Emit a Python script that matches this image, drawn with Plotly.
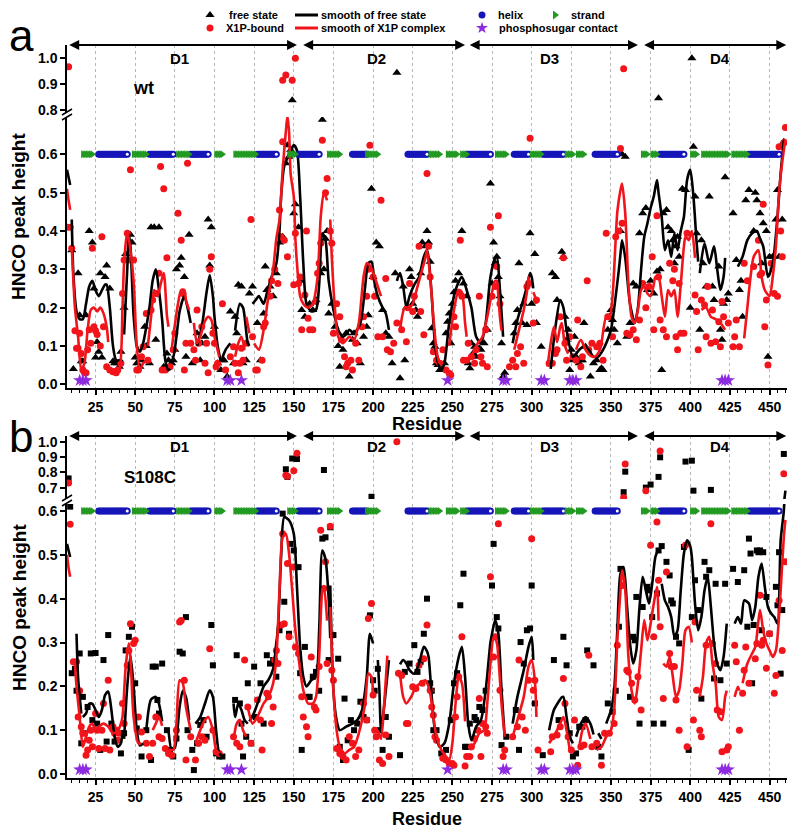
import plotly.graph_objects as go

# ------------------------------------------------------------------ data
# panel a (wt): free state (triangles) and X1P-bound (circles), (residue, peak height)
free_a = [(10,0.35),(11,0.04),(14,0.29),(15,0.18),(16,0.06),(17,0.06),(19,0.18),(21,0.40),(23,0.37),(24,0.25),(25,0.07),
 (26,0.11),(27,0.085),(28,0.29),(29,0.07),(31,0.28),(32,0.31),(34,0.25),(36,0.06),(37,0.055),(39,0.055),(40,0.046),
 (41,0.085),(43,0.2),(44,0.34),(47,0.39),(48,0.37),(50,0.07),(51,0.055),(53,0.046),(54,0.063),(56,0.15),(57,0.1),
 (59,0.055),(60,0.41),(62,0.41),(63,0.116),(65,0.41),(68,0.046),(70,0.08),(71,0.063),(73,0.055),(74,0.063),(75,0.09),
 (76,0.3),(78,0.31),(79,0.33),(81,0.28),(82,0.072),(84,0.39),(86,0.055),(89,0.133),(91,0.063),(92,0.107),(94,0.124),
 (96,0.43),(97,0.31),(98,0.41),(100,0.15),(102,0.055),(104,0.037),(105,0.063),(106,0.063),(108,0.02),(110,0.19),
 (112,0.055),(113,0.176),(114,0.133),(115,0.26),(117,0.255),(118,0.055),(120,0.063),(122,0.237),(124,0.255),(127,0.16),
 (129,0.063),(131,0.185),(132,0.307),(133,0.246),(135,0.255),(137,0.23),(139,0.29),(141,0.37),(143,0.385),(145,0.577),
 (146,0.624),(147,0.594),(148,0.611),(149,0.838),(150,0.446),(151,0.47),(152,0.6),(153,0.41),(154,0.27),(155,0.194),
 (157,0.176),(160,0.21),(162,0.194),(164,0.22),(167,0.29),(168,0.69),(169,0.3),(170,0.38),(171,0.4),(172,0.185),
 (174,0.21),(176,0.15),(178,0.1),(179,0.046),(181,0.09),(183,0.133),(185,0.02),(187,0.116),(188,0.133),(190,0.107),
 (192,0.055),(194,0.124),(196,0.15),(197,0.18),(199,0.51),(200,0.28),(202,0.37),(204,0.36),(206,0.194),(208,0.133),
 (210,0.124),(212,0.055),(214,0.29),(215,0.944),(217,0.016),(219,0.255),(220,0.063),(221,0.2),(223,0.3),(224,0.28),
 (225,0.21),(227,0.194),(228,0.176),(230,0.29),(231,0.37),(233,0.36),(234,0.4),(235,0.37),(236,0.32),(237,0.146),
 (238,0.107),(239,0.098),(240,0.055),(241,0.05),(242,0.037),(243,0.037),(245,0.055),(246,0.133),(247,0.163),(248,0.185),
 (249,0.107),(250,0.21),(251,0.24),(252,0.27),(254,0.29),(256,0.4),(257,0.263),(259,0.23),(260,0.055),(261,0.042),
 (262,0.107),(263,0.08),(264,0.098),(265,0.072),(267,0.094),(268,0.09),(270,0.107),(272,0.142),(274,0.524),(275,0.263),
 (276,0.37),(277,0.316),(278,0.333),(279,0.28),(280,0.23),(281,0.107),(282,0.02),(283,0.03),(289,0.133),(290,0.16),
 (291,0.194),(292,0.316),(294,0.16),(295,0.21),(297,0.155),(299,0.394),(300,0.21),(302,0.34),(303,0.16),(306,0.098),
 (313,0.29),(315,0.28),(316,0.22),(319,0.346),(320,0.333),(321,0.176),(322,0.116),(323,0.142),(324,0.037),(325,0.09),
 (326,0.063),(327,0.124),(328,0.072),(330,0.055),(331,0.063),(332,0.063),(333,0.16),(334,0.098),(337,0.02),(339,0.055),
 (341,0.063),(343,0.037),(344,0.042),(345,0.037),(348,0.142),(349,0.176),(350,0.194),(351,0.168),(352,0.142),(354,0.107),
 (356,0.4),(357,0.6),(359,0.594),(360,0.124),(362,0.16),(364,0.263),(366,0.255),(368,0.394),(370,0.446),(372,0.46),
 (373,0.246),(375,0.27),(377,0.237),(379,0.294),(380,0.845),(381,0.3),(382,0.037),(383,0.446),(385,0.455),(386,0.41),
 (388,0.4),(389,0.376),(390,0.316),(391,0.36),(392,0.385),(393,0.333),(395,0.51),(397,0.507),(400,0.2),(401,1.0),
 (402,0.62),(403,0.49),(404,0.394),(406,0.142),(407,0.376),(408,0.316),(410,0.255),(412,0.49),(414,0.255),(415,0.22),
 (418,0.307),(419,0.142),(420,0.116),(421,0.21),(422,0.54),(423,0.22),(424,0.237),(427,0.446),(429,0.324),(431,0.246),
 (432,0.27),(433,0.176),(435,0.48),(437,0.507),(440,0.4),(441,0.5),(442,0.48),(444,0.446),(445,0.316),(446,0.42),
 (448,0.4),(449,0.072),(450,0.333),(452,0.333),(454,0.43),(455,0.507),(456,0.333),(458,0.43),(459,0.633)]

x1p_a = [(7,0.41),(8,0.967),(9,0.41),(10,0.355),(12,0.14),(13,0.094),(14,0.094),(15,0.133),(16,0.08),(17,0.037),
 (18,0.03),(19,0.03),(20,0.09),(21,0.142),(22,0.107),(23,0.355),(24,0.15),(25,0.14),(26,0.13),(28,0.1),(29,0.385),
 (30,0.15),(32,0.046),(34,0.037),(36,0.033),(38,0.03),(39,0.037),(41,0.055),(42,0.237),(43,0.324),(45,0.394),(46,0.324),
 (47,0.56),(49,0.324),(51,0.037),(52,0.037),(54,0.072),(55,0.098),(57,0.185),(58,0.063),(60,0.194),(61,0.22),(63,0.237),
 (65,0.29),(66,0.568),(67,0.037),(68,0.51),(69,0.037),(70,0.33),(72,0.046),(74,0.09),(75,0.133),(77,0.446),(79,0.376),
 (80,0.237),(81,0.037),(82,0.107),(83,0.577),(85,0.107),(87,0.09),(88,0.063),(89,0.194),(90,0.107),(92,0.15),(94,0.055),
 (95,0.107),(96,0.03),(97,0.3),(98,0.333),(99,0.133),(100,0.107),(101,0.046),(102,0.055),(105,0.21),(107,0.037),
 (110,0.072),(112,0.098),(113,0.055),(115,0.03),(116,0.055),(117,0.094),(118,0.063),(120,0.107),(123,0.43),(124,0.124),
 (126,0.037),(127,0.037),(130,0.063),(131,0.15),(132,0.16),(135,0.23),(136,0.27),(138,0.3),(140,0.263),(141,0.455),
 (142,0.385),(143,0.633),(143,0.915),(144,0.376),(145,0.935),(146,0.333),(149,0.915),(150,0.26),(151,0.394),(151,1.0),
 (153,0.263),(154,0.28),(155,0.142),(157,0.233),(158,0.4),(159,0.172),(160,0.142),(162,0.142),(164,0.216),(165,0.29),
 (166,0.316),(167,0.368),(168,0.637),(170,0.5),(171,0.537),(173,0.4),(174,0.368),(175,0.133),(177,0.21),(179,0.176),
 (180,0.116),(182,0.072),(183,0.046),(184,0.055),(186,0.063),(187,0.037),(189,0.107),(191,0.063),(193,0.15),(194,0.176),
 (196,0.23),(197,0.3),(198,0.624),(200,0.28),(201,0.23),(203,0.124),(205,0.48),(206,0.124),(208,0.276),(209,0.09),
 (211,0.085),(213,0.107),(215,0.16),(218,0.142),(221,0.111),(222,0.2),(223,0.263),(225,0.19),(226,0.23),(229,0.36),
 (230,0.19),(232,0.129),(234,0.55),(235,0.36),(236,0.28),(238,0.085),(240,0.063),(242,0.055),(244,0.09),(246,0.037),
 (248,0.029),(249,0.024),(251,0.176),(252,0.15),(254,0.24),(255,0.376),(256,0.23),(257,0.063),(259,0.063),(260,0.107),
 (262,0.072),(264,0.055),(265,0.09),(267,0.23),(268,0.072),(269,0.055),(271,0.142),(272,0.046),(274,0.41),(275,0.23),
 (277,0.255),(278,0.307),(279,0.44),(280,0.21),(286,0.046),(288,0.063),(290,0.046),(291,0.08),(293,0.098),(295,0.055),
 (297,0.255),(298,0.263),(299,0.642),(301,0.16),(303,0.22),(311,0.055),(313,0.055),(315,0.08),(316,0.09),(318,0.176),
 (320,0.33),(321,0.107),(322,0.063),(324,0.124),(326,0.072),(328,0.063),(329,0.168),(331,0.046),(332,0.072),(335,0.27),
 (336,0.09),(338,0.107),(341,0.098),(343,0.107),(345,0.063),(347,0.394),(348,0.176),(351,0.124),(353,0.385),(355,0.4),
 (356,0.615),(357,0.42),(358,0.96),(360,0.133),(362,0.129),(364,0.142),(366,0.116),(368,0.168),(370,0.263),(372,0.2),
 (374,0.255),(376,0.333),(377,0.142),(379,0.44),(380,0.28),(381,0.168),(383,0.142),(385,0.124),(387,0.316),(389,0.27),
 (390,0.3),(391,0.124),(392,0.09),(393,0.263),(394,0.133),(396,0.133),(398,0.394),(403,0.233),(404,0.19),(405,0.09),
 (407,0.22),(409,0.207),(410,0.124),(411,0.255),(413,0.107),(414,0.194),(416,0.111),(418,0.163),(419,0.098),(420,0.216),
 (421,0.176),(424,0.16),(427,0.098),(428,0.124),(429,0.168),(431,0.098),(434,0.316),(436,0.27),(440,0.307),(443,0.376),
 (444,0.285),(445,0.29),(446,0.47),(447,0.15),(448,0.22),(449,0.05),(451,0.316),(453,0.237),(455,0.23),(456,0.62),
 (457,0.4),(458,0.333),(459,0.63),(460,0.67)]

smooth_free_a = [
 [(7,0.56),(8,0.54),(9,0.52)],
 [(10,0.43),(11,0.29),(13,0.19),(15,0.17),(17,0.17),(19,0.21),(21,0.255),(23,0.27),(25,0.245),(27,0.23),(29,0.245),
  (31,0.26),(32,0.26),(34,0.2),(36,0.1),(38,0.063),(41,0.063),(42,0.06)],
 [(43,0.13),(45,0.3),(46,0.39),(47,0.36),(49,0.18),(51,0.1),(53,0.085),(55,0.107),(57,0.15),(59,0.2),(61,0.27),
  (63,0.3),(65,0.245),(67,0.168),(69,0.063),(71,0.037),(72,0.04)],
 [(73,0.07),(74,0.072),(76,0.124),(78,0.19),(81,0.23),(83,0.2),(85,0.16)],
 [(89,0.1),(92,0.15),(95,0.24),(97,0.285),(99,0.23),(100,0.176),(102,0.1),(104,0.06)],
 [(105,0.07),(107,0.09),(110,0.107)],
 [(113,0.14),(116,0.21),(118,0.2),(121,0.107),(122,0.1)],
 [(124,0.21),(126,0.22),(128,0.23),(131,0.21),(133,0.237),(136,0.28),(139,0.315),(141,0.4),(142,0.49),(144,0.57),
  (147,0.6),(150,0.624),(152,0.61),(154,0.49),(156,0.316),(158,0.21),(161,0.19),(164,0.194),(166,0.26),(168,0.394),
  (170,0.376),(172,0.27),(175,0.194),(178,0.142),(181,0.124),(183,0.13),(185,0.142),(188,0.133),(192,0.16),(195,0.255),
  (197,0.316),(199,0.32),(201,0.263),(203,0.229),(206,0.2),(208,0.185),(210,0.142)],
 [(215,0.27),(217,0.29),(219,0.255),(221,0.2),(223,0.23),(226,0.26),(229,0.28),(232,0.333),(234,0.35),(235,0.33),
  (237,0.23),(239,0.107),(241,0.055),(243,0.037),(245,0.055),(248,0.16),(252,0.246),(256,0.28),(259,0.246),(262,0.2),
  (265,0.124),(268,0.107),(271,0.16),(274,0.28),(277,0.33),(278,0.333),(280,0.246),(282,0.124)],
 [(288,0.107),(291,0.168),(294,0.21),(297,0.255),(299,0.29),(300,0.28),(301,0.25)],
 [(312,0.04),(315,0.15),(318,0.22),(320,0.2),(322,0.142),(326,0.072),(330,0.09),(333,0.1),(336,0.09),(339,0.072),
  (342,0.072),(345,0.09),(347,0.107),(350,0.142),(353,0.23),(355,0.3),(356,0.34),(357,0.376),(359,0.33),(360,0.29),
  (362,0.21),(365,0.16),(367,0.2),(369,0.3),(371,0.385),(373,0.42),(375,0.46),(377,0.49),(379,0.533),(380,0.5),
  (382,0.437),(384,0.35),(386,0.376),(388,0.333),(390,0.394),(392,0.35),(394,0.4),(396,0.437),(398,0.533),(400,0.56),
  (402,0.49),(404,0.37),(405,0.32)],
 [(406,0.29),(409,0.368),(412,0.316),(415,0.36),(417,0.3),(419,0.246),(421,0.28),(422,0.33)],
 [(430,0.307),(433,0.333),(436,0.376),(439,0.394),(442,0.4),(444,0.38),(446,0.36),(449,0.28),(452,0.316),(455,0.437),
  (457,0.55),(459,0.637)]]

smooth_x1p_a = [
 [(7,0.51),(8,0.48),(9,0.455)],
 [(10,0.36),(12,0.2),(14,0.124),(16,0.037),(18,0.055),(20,0.142),(22,0.194),(24,0.2),(26,0.19),(28,0.2),(30,0.185),
  (32,0.15),(33,0.11)],
 [(36,0.04),(38,0.037),(40,0.04),(42,0.2),(43,0.316),(45,0.4),(47,0.35),(49,0.27),(51,0.1),(53,0.037),(55,0.055),(57,0.06)],
 [(58,0.1),(60,0.176),(62,0.246),(64,0.23),(66,0.26),(68,0.29),(70,0.18),(71,0.15)],
 [(73,0.09),(74,0.124),(77,0.21),(79,0.246),(81,0.246),(82,0.22),(84,0.194)],
 [(87,0.16),(89,0.107),(91,0.124),(94,0.165),(96,0.176),(98,0.168),(100,0.124),(103,0.072)],
 [(113,0.072),(115,0.107),(117,0.124),(119,0.09)],
 [(120,0.176),(122,0.133)],
 [(125,0.107),(128,0.09),(131,0.142),(134,0.23),(137,0.3),(139,0.38),(141,0.43),(143,0.56),(145,0.66),(146,0.70),
  (147,0.66),(148,0.55),(150,0.49),(151,0.38),(152,0.316),(154,0.23),(156,0.21),(159,0.2),(162,0.21),(165,0.28),
  (167,0.437),(169,0.5),(171,0.48)],
 [(173,0.43),(174,0.33),(176,0.194),(178,0.124),(181,0.107),(185,0.124),(188,0.116),(191,0.16),(194,0.28),(196,0.316),
  (198,0.31),(201,0.28),(203,0.255),(205,0.23)],
 [(217,0.142),(220,0.2),(223,0.2),(225,0.21),(228,0.255),(231,0.3),(233,0.33),(234,0.35),(236,0.28),(238,0.176),
  (240,0.09),(242,0.055),(244,0.06)],
 [(248,0.1),(251,0.194),(254,0.246),(256,0.24),(258,0.16),(259,0.124)],
 [(262,0.072),(266,0.107),(269,0.124),(272,0.176),(275,0.24),(277,0.27),(278,0.27),(279,0.23),(280,0.176),(281,0.14)],
 [(289,0.09),(292,0.142),(295,0.194),(297,0.24),(298,0.28),(299,0.26)],
 [(301,0.24),(302,0.23),(303,0.21)],
 [(310,0.046),(312,0.107),(314,0.15),(316,0.11),(318,0.15),(319,0.16),(321,0.1),(323,0.08)],
 [(328,0.09),(331,0.116),(334,0.09),(337,0.075),(340,0.072),(343,0.09),(344,0.107),(347,0.176),(349,0.17),(351,0.23),
  (353,0.38),(354,0.45),(356,0.507),(357,0.524),(359,0.446),(361,0.263),(363,0.176),(365,0.16),(367,0.194),(369,0.246),
  (371,0.255),(373,0.237),(375,0.23),(377,0.26),(378,0.28),(380,0.28),(382,0.23),(384,0.176),(386,0.246),(388,0.23),
  (390,0.246),(392,0.176),(394,0.26),(396,0.36),(397,0.385),(399,0.376),(401,0.4),(403,0.33)],
 [(407,0.194),(410,0.2),(413,0.176),(416,0.17),(419,0.16),(422,0.142)],
 [(434,0.12),(436,0.2),(438,0.28),(440,0.333),(443,0.35),(445,0.28),(447,0.246),(450,0.23),(452,0.28),(454,0.36),
  (456,0.5),(458,0.58),(460,0.64)]]

# panel b (S108C): free state (squares) and X1P-bound (circles)
free_b = [(8,0.76),(9,0.61),(10,0.23),(12,0.24),(13,0.19),(15,0.275),(16,0.07),(17,0.176),(18,0.093),(20,0.153),(22,0.275),
 (23,0.123),(25,0.276),(26,0.115),(28,0.055),(30,0.26),(32,0.074),(33,0.317),(35,0.115),(37,0.074),(41,0.047),(43,0.093),
 (44,0.282),(46,0.313),(48,0.336),(50,0.207),(51,0.104),(54,0.04),(57,0.1),(60,0.032),(61,0.245),(63,0.245),(64,0.169),
 (65,0.138),(67,0.252),(70,0.1),(72,0.055),(74,0.04),(76,0.081),(78,0.279),(80,0.275),(82,0.358),(83,0.1),(86,0.055),
 (87,0.009),(89,0.07),(91,0.112),(93,0.123),(95,0.085),(98,0.34),(99,0.248),(101,0.047),(103,0.04),(105,0.04),(113,0.169),
 (114,0.271),(116,0.161),(117,0.115),(118,0.04),(120,0.085),(121,0.207),(123,0.07),(125,0.245),(126,0.13),(129,0.207),
 (131,0.115),(133,0.271),(135,0.252),(137,0.26),(139,0.222),(141,0.328),(143,0.594),(144,0.393),(145,0.82),(146,0.77),
 (147,0.32),(148,0.525),(149,0.89),(150,0.51),(152,0.887),(153,0.472),(154,0.23),(155,0.055),(157,0.29),(159,0.176),
 (160,0.176),(162,0.222),(164,0.233),(166,0.19),(168,0.537),(169,0.815),(170,0.54),(172,0.26),(173,0.563),(175,0.317),
 (178,0.263),(179,0.062),(181,0.032),(182,0.172),(184,0.077),(186,0.123),(188,0.1),(190,0.115),(192,0.165),(194,0.13),
 (196,0.123),(198,0.362),(199,0.64),(200,0.214),(201,0.19),(203,0.24),(204,0.1),(206,0.055),(208,0.13),(210,0.085),
 (217,0.043),(220,0.233),(223,0.252),(226,0.294),(228,0.233),(230,0.256),(232,0.32),(234,0.4),(236,0.207),(237,0.19),
 (238,0.1),(240,0.1),(243,0.047),(244,0.04),(246,0.055),(249,0.123),(251,0.207),(253,0.23),(255,0.385),(257,0.457),
 (258,0.062),(259,0.062),(261,0.115),(264,0.13),(265,0.123),(267,0.153),(269,0.146),(271,0.19),(275,0.43),(276,0.525),
 (278,0.358),(279,0.332),(281,0.066),(284,0.085),(290,0.146),(292,0.055),(293,0.301),(295,0.252),(297,0.328),(299,0.332),
 (300,0.43),(302,0.161),(307,0.043),(314,0.26),(317,0.123),(320,0.313),(322,0.248),(324,0.093),(326,0.04),(328,0.047),
 (330,0.108),(332,0.108),(334,0.123),(335,0.282),(339,0.248),(342,0.062),(344,0.04),(348,0.161),(351,0.142),(353,0.19),
 (355,0.336),(356,0.468),(358,0.67),(359,0.804),(362,0.176),(364,0.313),(365,0.305),(366,0.404),(368,0.115),(370,0.381),
 (372,0.7),(373,0.427),(374,0.419),(375,0.72),(376,0.358),(377,0.115),(379,0.412),(380,0.51),(380,0.77),(381,0.898),
 (382,0.52),(383,0.115),(385,0.484),(387,0.453),(388,0.396),(389,0.389),(391,0.313),(393,0.298),(396,0.518),(397,0.87),
 (399,0.055),(401,0.358),(401,0.876),(402,0.68),(403,0.442),(405,0.374),(407,0.172),(409,0.484),(410,0.45),(412,0.465),
 (413,0.685),(415,0.218),(416,0.434),(419,0.214),(422,0.434),(423,0.252),(427,0.468),(430,0.438),(434,0.465),(436,0.336),
 (437,0.537),(438,0.503),(439,0.207),(440,0.34),(442,0.51),(443,0.506),(444,0.51),(445,0.328),(446,0.506),(448,0.404),
 (450,0.32),(454,0.427),(455,0.385),(456,0.506),(457,0.229),(458,0.374),(459,0.92)]

x1p_b = [(8,0.73),(9,0.57),(11,0.256),(13,0.256),(14,0.13),(15,0.19),(16,0.108),(17,0.093),(19,0.043),(20,0.055),(21,0.077),
 (22,0.1),(23,0.062),(25,0.138),(26,0.1),(27,0.058),(29,0.1),(30,0.161),(31,0.058),(33,0.214),(34,0.055),(36,0.108),
 (37,0.093),(38,0.1),(39,0.077),(40,0.093),(42,0.161),(43,0.115),(45,0.248),(46,0.282),(47,0.343),(49,0.298),(50,0.305),
 (52,0.13),(54,0.096),(57,0.07),(59,0.04),(61,0.07),(63,0.13),(65,0.085),(67,0.081),(69,0.058),(71,0.047),(73,0.043),
 (76,0.1),(78,0.347),(79,0.35),(81,0.214),(82,0.032),(85,0.085),(88,0.032),(90,0.07),(92,0.085),(94,0.077),(97,0.286),
 (99,0.1),(101,0.051),(103,0.047),(112,0.085),(114,0.07),(116,0.062),(119,0.26),(121,0.153),(123,0.07),(127,0.169),
 (129,0.123),(130,0.055),(133,0.184),(134,0.176),(136,0.115),(137,0.153),(138,0.26),(139,0.282),(140,0.252),(142,0.34),
 (143,0.548),(144,0.343),(145,0.78),(146,0.48),(146,0.775),(147,0.313),(150,0.81),(150,0.472),(151,0.29),(152,0.924),
 (153,0.275),(155,0.176),(156,0.13),(158,0.108),(159,0.085),(161,0.267),(163,0.153),(164,0.146),(166,0.245),(167,0.556),
 (169,0.423),(170,0.484),(171,0.252),(173,0.565),(174,0.237),(175,0.214),(177,0.058),(179,0.047),(181,0.04),(183,0.032),
 (185,0.085),(187,0.07),(189,0.04),(191,0.055),(194,0.161),(196,0.123),(197,0.355),(199,0.389),(200,0.18),(201,0.1),
 (202,0.085),(204,0.032),(206,0.024),(208,0.089),(210,0.04),(215,1.0),(216,0.23),(218,0.225),(221,0.115),(222,0.115),
 (225,0.199),(227,0.195),(229,0.248),(231,0.207),(232,0.263),(234,0.34),(236,0.191),(237,0.153),(238,0.134),(239,0.085),
 (240,0.077),(244,0.036),(246,0.032),(248,0.024),(250,0.024),(251,0.02),(252,0.13),(253,0.176),(254,0.222),(256,0.313),
 (258,0.018),(259,0.04),(261,0.04),(262,0.062),(264,0.081),(266,0.1),(267,0.172),(268,0.04),(269,0.115),(271,0.108),
 (272,0.093),(274,0.45),(276,0.267),(277,0.313),(279,0.571),(280,0.191),(282,0.04),(283,0.055),(288,0.085),(291,0.108),
 (292,0.26),(294,0.13),(296,0.1),(298,0.214),(300,0.537),(301,0.191),(302,0.214),(304,0.055),(312,0.051),(313,0.085),
 (316,0.089),(318,0.108),(320,0.218),(321,0.161),(323,0.085),(325,0.055),(327,0.123),(329,0.02),(331,0.062),(333,0.066),
 (336,0.271),(338,0.062),(341,0.07),(344,0.02),(346,0.093),(349,0.093),(352,0.115),(354,0.294),(357,0.43),(358,0.635),
 (359,0.855),(360,0.237),(361,0.233),(363,0.207),(365,0.169),(367,0.222),(369,0.146),(372,0.68),(375,0.522),(377,0.313),
 (379,0.575),(380,0.442),(381,0.336),(381,0.94),(383,0.172),(385,0.461),(387,0.275),(388,0.245),(390,0.245),(391,0.169),
 (393,0.1),(397,0.522),(398,0.062),(402,0.123),(403,0.347),(404,0.191),(406,0.1),(407,0.085),(410,0.294),(413,0.571),
 (414,0.298),(416,0.252),(417,0.146),(419,0.142),(420,0.051),(423,0.055),(424,0.062),(428,0.294),(429,0.256),(431,0.1),
 (433,0.184),(434,0.237),(435,0.29),(437,0.207),(441,0.263),(442,0.298),(444,0.408),(445,0.294),(446,0.305),(448,0.241),
 (450,0.32),(453,0.184),(454,0.225),(456,0.396),(458,0.282),(459,0.79),(460,0.484)]

smooth_free_b = [
 [(7,0.525),(8,0.51),(9,0.495)],
 [(13,0.32),(14,0.22),(16,0.138)],
 [(17,0.13),(19,0.138),(21,0.16),(23,0.16),(25,0.146),(27,0.13),(29,0.146),(31,0.18),(33,0.188),(35,0.146),(37,0.085),
  (39,0.062),(41,0.07),(42,0.1)],
 [(43,0.08),(45,0.2),(47,0.27),(49,0.2),(51,0.1),(53,0.065),(55,0.07)],
 [(57,0.1),(60,0.17),(63,0.176),(65,0.16),(67,0.12)],
 [(71,0.1),(73,0.055),(75,0.06),(78,0.153),(80,0.19),(82,0.176),(84,0.123)],
 [(88,0.115),(91,0.13),(94,0.161),(97,0.191),(99,0.176),(101,0.1),(103,0.047),(105,0.04)],
 [(112,0.161),(113,0.13),(115,0.161),(117,0.146),(119,0.123),(121,0.115)],
 [(122,0.12),(125,0.14),(128,0.17),(131,0.2),(134,0.215),(137,0.24),(139,0.3),(140,0.33),(142,0.495),(144,0.586),
  (147,0.579),(150,0.548),(152,0.427),(154,0.29),(156,0.222),(158,0.2),(161,0.214),(164,0.222),(166,0.328),(168,0.51),
  (170,0.49),(172,0.4),(173,0.31)],
 [(173,0.43),(175,0.19),(177,0.123),(179,0.1),(183,0.108),(187,0.115),(190,0.123),(193,0.146),(196,0.222),(198,0.32),
  (200,0.298)],
 [(203,0.26),(204,0.19),(205,0.1),(206,0.123),(208,0.19),(210,0.26)],
 [(217,0.25),(219,0.26),(221,0.252),(223,0.237),(226,0.229),(229,0.252),(232,0.29),(234,0.28),(235,0.267),(237,0.176),
  (239,0.1),(242,0.062),(245,0.07),(248,0.115),(251,0.207),(254,0.267),(256,0.29),(258,0.222),(260,0.115),(262,0.077),
  (265,0.108),(268,0.123),(271,0.191),(274,0.3),(275,0.32),(277,0.351),(279,0.32),(281,0.191),(283,0.085)],
 [(288,0.115),(291,0.176),(295,0.237),(298,0.29),(300,0.313),(301,0.26)],
 [(311,0.1),(314,0.146),(317,0.165),(319,0.175),(320,0.176),(322,0.13),(324,0.085),(326,0.07)],
 [(328,0.085),(331,0.115),(334,0.13),(337,0.115),(339,0.09)],
 [(342,0.093),(344,0.08)],
 [(347,0.115),(350,0.146),(352,0.191),(354,0.328),(356,0.457),(358,0.472),(360,0.389),(362,0.298),(364,0.252),(366,0.282),
  (368,0.381),(370,0.45),(372,0.419),(374,0.389),(376,0.434),(378,0.495),(380,0.514)],
 [(382,0.434),(384,0.396),(386,0.381),(388,0.358),(390,0.313),(392,0.328),(394,0.419),(396,0.503),(398,0.533),(400,0.52),
  (401,0.495),(403,0.389),(405,0.328),(407,0.358),(409,0.419),(411,0.45),(413,0.381),(415,0.298),(417,0.252),(419,0.237),
  (421,0.267),(423,0.343)],
 [(428,0.343),(430,0.358),(432,0.343),(434,0.396),(437,0.389),(439,0.351),(441,0.381),(443,0.45),(445,0.48),(447,0.427),
  (449,0.381),(451,0.366),(453,0.358),(455,0.343),(457,0.533),(459,0.601),(460,0.68)]]

smooth_x1p_b = [
 [(7,0.5),(8,0.47),(9,0.45)],
 [(12,0.252),(13,0.2),(15,0.13),(17,0.062),(19,0.085),(21,0.108),(23,0.115),(25,0.1),(27,0.108),(30,0.115),(33,0.108),
  (36,0.093),(39,0.098),(41,0.115),(42,0.13),(44,0.245),(46,0.298),(47,0.267),(49,0.13),(52,0.07),(54,0.07)],
 [(61,0.1),(63,0.115),(65,0.13),(67,0.11)],
 [(71,0.055),(74,0.055),(76,0.115),(78,0.214),(80,0.207),(82,0.153),(85,0.1)],
 [(88,0.07),(91,0.1),(94,0.123),(96,0.13),(99,0.1),(101,0.055),(103,0.047)],
 [(112,0.077),(114,0.115),(116,0.123),(118,0.1),(120,0.085)],
 [(121,0.153),(124,0.115),(127,0.13),(131,0.161),(134,0.176),(137,0.207),(139,0.267),(141,0.419),(143,0.54),(145,0.548),
  (147,0.503),(149,0.419),(151,0.328),(154,0.237),(156,0.191),(159,0.161),(162,0.161),(164,0.176),(166,0.267),(168,0.419),
  (169,0.427),(171,0.35)],
 [(173,0.381),(175,0.191),(177,0.1),(179,0.062),(182,0.047),(185,0.055),(188,0.062),(191,0.093),(195,0.161),(197,0.229),
  (199,0.222),(200,0.18)],
 [(203,0.1),(205,0.08),(207,0.16),(209,0.27)],
 [(217,0.229),(219,0.176),(221,0.161),(224,0.176),(227,0.199),(230,0.207),(233,0.214),(236,0.184),(238,0.13),(240,0.085),
  (243,0.055),(246,0.04),(248,0.032),(250,0.07),(252,0.161),(254,0.222),(256,0.207),(258,0.12)],
 [(261,0.055),(264,0.07),(267,0.093),(270,0.1),(272,0.161),(274,0.252),(276,0.313),(278,0.3),(279,0.267),(281,0.161),
  (283,0.085)],
 [(288,0.085),(291,0.123),(295,0.176),(298,0.245),(300,0.26),(302,0.214),(303,0.13)],
 [(311,0.07),(315,0.093),(318,0.115),(320,0.13),(322,0.1),(324,0.055)],
 [(330,0.062),(332,0.1),(334,0.115),(337,0.08)],
 [(341,0.055),(344,0.062),(347,0.085),(350,0.1),(352,0.146),(354,0.305),(356,0.419),(357,0.465),(359,0.419),(361,0.267),
  (363,0.191),(365,0.161),(367,0.207),(369,0.282),(371,0.351),(373,0.305),(375,0.343),(377,0.389),(379,0.427),(380,0.35)],
 [(383,0.252),(385,0.245),(387,0.267),(389,0.222),(391,0.176),(393,0.191),(395,0.252),(397,0.328),(399,0.336),(401,0.3)],
 [(406,0.176),(408,0.222),(410,0.298),(412,0.313),(414,0.252),(416,0.207),(418,0.13),(420,0.123),(422,0.176),(423,0.19)],
 [(428,0.176),(430,0.199),(431,0.19)],
 [(433,0.207),(436,0.252),(439,0.275),(441,0.29),(443,0.35),(444,0.374),(446,0.328),(448,0.298),(450,0.282),(452,0.267),
  (454,0.282),(456,0.36),(457,0.419),(459,0.541),(460,0.58)]]

# secondary structure (residue ranges), phosphosugar contacts, domains
helix = [(27,45),(59,74),(85,96),(127,139),(153,166),(187,196),(222,234),(259,274),(289,298),(307,320),(340,354),
         (381,396),(437,456)]
strand = [(17,23),(49,57),(77,84),(101,105),(113,126),(147,151),(172,179),(196,203),(236,242),(247,253),(256,259),
          (278,284),(300,306),(322,326),(329,333),(370,373),(376,379),(401,404),(408,414),(415,424),(427,436)]
phospho = [15, 17, 19, 108, 110, 117, 247, 282, 284, 306, 308, 324, 326, 328, 420, 422, 424]
ss_level = 0.6
phospho_level = 0.01
domains = ["D1", "D2", "D3", "D4"]
domain_start = [7.5, 155, 260, 370]
domain_end = [152, 258, 367, 460.5]
domain_label_x = [78, 202, 311, 419]
x_ticks = [25, 50, 75, 100, 125, 150, 175, 200, 225, 250, 275, 300, 325, 350, 375, 400, 425, 450]
yt_a_lo = [0.0, 0.1, 0.2, 0.3, 0.4, 0.5, 0.6]
yt_a_hi = [0.8, 0.9, 1.0]
yt_b_lo = [0.0, 0.1, 0.2, 0.3, 0.4, 0.5, 0.6]
yt_b_hi = [0.7, 0.8, 0.9, 1.0]

# ------------------------------------------------------------------ layout geometry (pixels)
W, H = 800, 833
FONT = "Arial, Liberation Sans, sans-serif"
RED = "#f2141b"
BLUE = "#1515b8"
GREEN = "#229a22"
PURPLE = "#8d2be0"


def fx(p):
    return p / W


def fy(p):
    return 1 - p / H


X0, X1 = 67, 787
XR = [7, 461]
PANELS = [
    dict(name="a", xl="x", yl="y", xu="x2", yu="y2",
         lo_px=(117, 388), lo_rng=[-0.0097, 0.6974], hi_px=(45, 113), hi_rng=[0.7884, 1.0515],
         yt_lo=yt_a_lo, yt_hi=yt_a_hi, free=free_a, x1p=x1p_a, sf=smooth_free_a, sx=smooth_x1p_a,
         free_sym="triangle-up", free_size=8, label_px=(21, 36), sub="wt", sub_px=(143, 88), sub_size=18,
         arrow_px=45, dlabel_px=58, title_px=424, ytitle_px=217, brk_px=115),
    dict(name="b", xl="x3", yl="y3", xu="x4", yu="y4",
         lo_px=(504, 778), lo_rng=[-0.0091, 0.616], hi_px=(436, 499), hi_rng=[0.6255, 1.0373],
         yt_lo=yt_b_lo, yt_hi=yt_b_hi, free=free_b, x1p=x1p_b, sf=smooth_free_b, sx=smooth_x1p_b,
         free_sym="square", free_size=6, label_px=(21, 436), sub="S108C", sub_px=(150, 477), sub_size=17,
         arrow_px=436, dlabel_px=447, title_px=819, ytitle_px=608, brk_px=501),
]


def join(segs):
    xs, ys = [], []
    for s in segs:
        for r, v in s:
            xs.append(r)
            ys.append(v)
        xs.append(None)
        ys.append(None)
    return xs, ys


fig = go.Figure()


def add(xs, ys, xa, ya, **kw):
    fig.add_trace(go.Scatter(x=list(xs), y=list(ys), xaxis=xa, yaxis=ya, showlegend=False,
                             hoverinfo="skip", **kw))


annotations = []
shapes = []
layout_axes = {}

tickfont = dict(family=FONT, size=14, color="black", weight="bold")

for i, P in enumerate(PANELS):
    lo_top = P["lo_rng"][1]
    # scatter points split between lower / upper segments
    for pts, sym, size, col in [(P["free"], P["free_sym"], P["free_size"], "black"),
                                (P["x1p"], "circle", 7, RED)]:
        lo = [(r, v) for r, v in pts if v <= lo_top]
        hi = [(r, v) for r, v in pts if v > lo_top]
        for sub, xa, ya in [(lo, P["xl"], P["yl"]), (hi, P["xu"], P["yu"])]:
            if sub:
                add([p[0] for p in sub], [p[1] for p in sub], xa, ya, mode="markers",
                    marker=dict(symbol=sym, size=size, color=col, line=dict(width=0)))
    # smooth lines, drawn in both segments (clipped by the axes)
    for segs, col in [(P["sf"], "black"), (P["sx"], RED)]:
        xs, ys = join(segs)
        for xa, ya in [(P["xl"], P["yl"]), (P["xu"], P["yu"])]:
            add(xs, ys, xa, ya, mode="lines", connectgaps=False,
                line=dict(color=col, width=2.6, shape="spline", smoothing=0.7))
    # secondary structure
    hx = [r for s, e in helix for r in range(s, e + 1)]
    add(hx, [ss_level] * len(hx), P["xl"], P["yl"], mode="markers",
        marker=dict(symbol="circle", size=7, color=BLUE, line=dict(width=0)))
    he = [e for s, e in helix]
    add(he, [ss_level] * len(he), P["xl"], P["yl"], mode="markers",
        marker=dict(symbol="circle", size=3, color="white", line=dict(width=0)))
    st = [r for s, e in strand for r in range(s, e + 1)]
    add(st, [ss_level] * len(st), P["xl"], P["yl"], mode="markers",
        marker=dict(symbol="triangle-right", size=7, color=GREEN, line=dict(width=0)))
    add(phospho, [phospho_level] * len(phospho), P["xl"], P["yl"], mode="markers",
        marker=dict(symbol="star", size=10, color=PURPLE, line=dict(width=0)))

    # axes
    xid_l = "xaxis" if P["xl"] == "x" else "xaxis" + P["xl"][1:]
    xid_u = "xaxis" + P["xu"][1:]
    yid_l = "yaxis" if P["yl"] == "y" else "yaxis" + P["yl"][1:]
    yid_u = "yaxis" + P["yu"][1:]
    xcommon = dict(range=XR, domain=[fx(X0), fx(X1)], showgrid=True, gridcolor="#b8b8b8",
                   griddash="3px,3px", gridwidth=1, zeroline=False, tickvals=x_ticks, automargin=False,
                   fixedrange=True)
    layout_axes[xid_l] = dict(xcommon, anchor=P["yl"], showline=True, linecolor="black", linewidth=1.5,
                              ticks="outside", ticklen=5, tickwidth=1.5, tickcolor="black",
                              showticklabels=True, tickfont=dict(tickfont, size=14),
                              minor=dict(dtick=5, tick0=0, ticks="outside", ticklen=3, tickwidth=1,
                                         tickcolor="black", showgrid=False))
    layout_axes[xid_u] = dict(xcommon, anchor=P["yu"], showline=False, ticks="", showticklabels=False)
    ycommon = dict(showline=True, linecolor="black", linewidth=1.5, ticks="outside", ticklen=5,
                   tickwidth=1.5, tickcolor="black", showgrid=False, zeroline=False, tickfont=tickfont,
                   automargin=False, fixedrange=True)
    layout_axes[yid_l] = dict(ycommon, anchor=P["xl"], range=P["lo_rng"],
                              domain=[fy(P["lo_px"][1]), fy(P["lo_px"][0])],
                              tickvals=P["yt_lo"], ticktext=["%.1f" % v for v in P["yt_lo"]])
    layout_axes[yid_u] = dict(ycommon, anchor=P["xu"], range=P["hi_rng"],
                              domain=[fy(P["hi_px"][1]), fy(P["hi_px"][0])],
                              tickvals=P["yt_hi"], ticktext=["%.1f" % v for v in P["yt_hi"]])

    # domain arrows + labels
    for name, s, e, lx in zip(domains, domain_start, domain_end, domain_label_x):
        annotations.append(dict(x=e, y=fy(P["arrow_px"]), xref=P["xl"], yref="paper", ax=s, ay=0,
                                axref=P["xl"], ayref="pixel", text="", showarrow=True,
                                arrowside="end+start", arrowhead=2, startarrowhead=2, arrowsize=1.1,
                                startarrowsize=1.1, arrowwidth=1.8, arrowcolor="black"))
        annotations.append(dict(x=lx, y=fy(P["dlabel_px"]), xref=P["xl"], yref="paper", text=name,
                                showarrow=False, font=dict(family=FONT, size=15, color="black", weight="bold"),
                                xanchor="center", yanchor="middle"))
    # panel letter, variant label, titles
    annotations.append(dict(x=fx(P["label_px"][0]), y=fy(P["label_px"][1]), xref="paper", yref="paper",
                            text=P["name"], showarrow=False, font=dict(family=FONT, size=44, color="black"),
                            xanchor="center", yanchor="middle"))
    annotations.append(dict(x=fx(P["sub_px"][0]), y=fy(P["sub_px"][1]), xref="paper", yref="paper",
                            text=P["sub"], showarrow=False,
                            font=dict(family=FONT, size=P["sub_size"], color="black", weight="bold"),
                            xanchor="center", yanchor="middle"))
    annotations.append(dict(x=fx((X0 + X1) / 2), y=fy(P["title_px"]), xref="paper", yref="paper",
                            text="Residue", showarrow=False, borderpad=0,
                            font=dict(family=FONT, size=18, color="black", weight="bold"),
                            xanchor="center", yanchor="middle"))
    annotations.append(dict(x=fx(19), y=fy(P["ytitle_px"]), xref="paper", yref="paper",
                            text="HNCO peak height", showarrow=False, textangle=-90,
                            font=dict(family=FONT, size=19, color="black", weight="bold"),
                            xanchor="center", yanchor="middle"))
    # axis break marks
    b = P["brk_px"]
    for off in (-3, 2):
        shapes.append(dict(type="line", xref="paper", yref="paper", x0=fx(X0 - 5), y0=fy(b + off + 3),
                           x1=fx(X0 + 5), y1=fy(b + off - 3), line=dict(color="black", width=1.5)))

# ------------------------------------------------------------------ legend (overlay in pixel space)
layout_axes["xaxis5"] = dict(domain=[0, 1], range=[0, W], visible=False, fixedrange=True, anchor="y5")
layout_axes["yaxis5"] = dict(domain=[0, 1], range=[H, 0], visible=False, fixedrange=True, anchor="x5")
leg_row = [15, 28]
add([210], [leg_row[0]], "x5", "y5", mode="markers", cliponaxis=False,
    marker=dict(symbol="triangle-up", size=8, color="black"))
add([210], [leg_row[1]], "x5", "y5", mode="markers", cliponaxis=False,
    marker=dict(symbol="circle", size=7, color=RED))
add([295, 318], [leg_row[0]] * 2, "x5", "y5", mode="lines", line=dict(color="black", width=3))
add([295, 318], [leg_row[1]] * 2, "x5", "y5", mode="lines", line=dict(color=RED, width=3))
add([482], [leg_row[0]], "x5", "y5", mode="markers", cliponaxis=False,
    marker=dict(symbol="circle", size=7, color=BLUE))
add([482], [leg_row[1]], "x5", "y5", mode="markers", cliponaxis=False,
    marker=dict(symbol="star", size=9, color=PURPLE))
add([555], [leg_row[0]], "x5", "y5", mode="markers", cliponaxis=False,
    marker=dict(symbol="triangle-right", size=8, color=GREEN))
for txt, px, row in [("free state", 227, 0), ("X1P-bound", 224, 1), ("smooth of free state", 319, 0),
                     ("smooth of X1P complex", 319, 1), ("helix", 496, 0), ("phosphosugar contact", 497, 1),
                     ("strand", 569, 0)]:
    annotations.append(dict(x=fx(px), y=fy(leg_row[row]), xref="paper", yref="paper", text=txt,
                            showarrow=False, xanchor="left", yanchor="middle",
                            font=dict(family=FONT, size=11, color="black", weight="bold")))

fig.update_layout(width=W, height=H, margin=dict(l=0, r=0, t=0, b=0, pad=0),
                  paper_bgcolor="white", plot_bgcolor="rgba(0,0,0,0)", showlegend=False,
                  annotations=annotations, shapes=shapes, **layout_axes)

fig.write_html("out.html", config={"displayModeBar": False},
               post_script="document.body.style.margin='0';")
